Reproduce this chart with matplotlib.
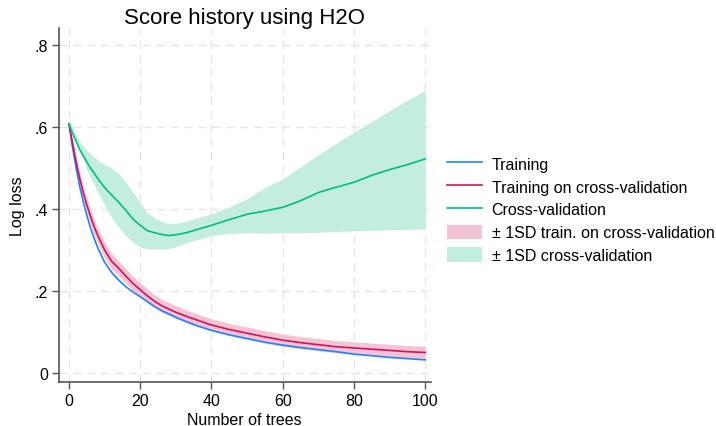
import numpy as np
import matplotlib.pyplot as plt
from matplotlib.lines import Line2D
from matplotlib.patches import Patch

plt.rcParams['font.family'] = ['Liberation Sans', 'DejaVu Sans']

trees = [0, 1, 2, 3, 4, 5, 6, 7, 8, 10, 12, 14, 16, 18, 20, 22, 24, 26, 28, 30,
         33, 36, 40, 45, 50, 55, 60, 65, 70, 75, 80, 85, 90, 95, 100]

training = [0.607, 0.55, 0.50, 0.455, 0.418, 0.385, 0.355, 0.33, 0.307, 0.27,
            0.245, 0.226, 0.21, 0.197, 0.186, 0.174, 0.162, 0.152, 0.144, 0.136,
            0.125, 0.115, 0.104, 0.093, 0.084, 0.075, 0.068, 0.062, 0.057, 0.052,
            0.046, 0.042, 0.038, 0.035, 0.032]

train_cv = [0.607, 0.56, 0.515, 0.475, 0.44, 0.41, 0.383, 0.358, 0.337, 0.30,
            0.272, 0.255, 0.236, 0.218, 0.203, 0.188, 0.175, 0.164, 0.156, 0.148,
            0.138, 0.129, 0.117, 0.106, 0.097, 0.088, 0.080, 0.074, 0.069, 0.064,
            0.061, 0.058, 0.055, 0.052, 0.050]

train_cv_sd = [0.005, 0.010, 0.013, 0.015, 0.017, 0.018, 0.019, 0.019, 0.019, 0.019,
               0.019, 0.018, 0.018, 0.017, 0.017, 0.017, 0.016, 0.016, 0.016, 0.016,
               0.016, 0.015, 0.015, 0.015, 0.015, 0.015, 0.015, 0.015, 0.015, 0.015,
               0.015, 0.015, 0.015, 0.015, 0.015]

cv = [0.607, 0.585, 0.565, 0.545, 0.53, 0.515, 0.50, 0.488, 0.475, 0.452,
      0.434, 0.416, 0.396, 0.375, 0.36, 0.347, 0.342, 0.338, 0.335, 0.337,
      0.342, 0.35, 0.36, 0.374, 0.387, 0.395, 0.404, 0.42, 0.44, 0.453,
      0.465, 0.482, 0.496, 0.508, 0.522]

cv_upper = [0.62, 0.60, 0.58, 0.565, 0.553, 0.543, 0.535, 0.527, 0.52, 0.508,
            0.50, 0.485, 0.465, 0.44, 0.415, 0.39, 0.378, 0.37, 0.364, 0.365,
            0.37, 0.378, 0.388, 0.405, 0.425, 0.452, 0.473, 0.503, 0.532, 0.56,
            0.587, 0.613, 0.64, 0.665, 0.689]

cv_lower = [0.603, 0.585, 0.56, 0.54, 0.52, 0.495, 0.478, 0.46, 0.443, 0.41,
            0.378, 0.355, 0.335, 0.318, 0.307, 0.302, 0.302, 0.302, 0.303, 0.308,
            0.318, 0.325, 0.335, 0.34, 0.342, 0.341, 0.342, 0.342, 0.343, 0.345,
            0.347, 0.348, 0.349, 0.35, 0.351]

c_train = '#1a85ff'
c_tcv = '#d51159'
c_cv = '#00bf7f'
c_tcv_band = '#f4c3d5'
c_cv_band = '#c3eddd'

fig = plt.figure(figsize=(7.16, 4.27), dpi=100)
ax = fig.add_axes([0.0824, 0.103, 0.519, 0.828])

tcv = np.array(train_cv)
sd = np.array(train_cv_sd)
ax.fill_between(trees, cv_lower, cv_upper, color=c_cv_band, lw=0, zorder=2)
ax.fill_between(trees, tcv - sd, tcv + sd, color=c_tcv_band, lw=0, zorder=2)
ax.plot(trees, training, color=c_train, lw=1.2, zorder=3)
ax.plot(trees, train_cv, color=c_tcv, lw=1.2, zorder=3)
ax.plot(trees, cv, color=c_cv, lw=1.2, zorder=3)

ax.set_xlim(-2.8, 101.5)
ax.set_ylim(-0.022, 0.84)
ax.set_xticks([0, 20, 40, 60, 80, 100])
ax.set_yticks([0, 0.2, 0.4, 0.6, 0.8])
ax.set_yticklabels(['0', '.2', '.4', '.6', '.8'])
ax.tick_params(labelsize=11.5, length=5, width=1, color='#555555', direction='out', pad=3)
ax.grid(True, color='#e6e6e6', lw=1, ls=(0, (6, 4)), zorder=0)
ax.set_axisbelow(True)
for s in ['top', 'right']:
    ax.spines[s].set_visible(False)
for s in ['left', 'bottom']:
    ax.spines[s].set_color('#555555')
    ax.spines[s].set_linewidth(1.2)

ax.set_xlabel('Number of trees', fontsize=11.5, labelpad=3)
ax.set_ylabel('Log loss', fontsize=11.5, labelpad=7)
ax.set_title('Score history using H2O', fontsize=16, pad=1)

handles = [Line2D([], [], color=c_train, lw=1.2),
           Line2D([], [], color=c_tcv, lw=1.2),
           Line2D([], [], color=c_cv, lw=1.2),
           Patch(facecolor=c_tcv_band, lw=0),
           Patch(facecolor=c_cv_band, lw=0)]
labels = ['Training', 'Training on cross-validation', 'Cross-validation',
          '± 1SD train. on cross-validation', '± 1SD cross-validation']
fig.legend(handles, labels, loc='center left', bbox_to_anchor=(0.624, 0.507),
           frameon=False, fontsize=11.5, handlelength=2.2, handleheight=1.0,
           handletextpad=0.6, labelspacing=0.45, borderpad=0, borderaxespad=0)

plt.savefig('out.png')
